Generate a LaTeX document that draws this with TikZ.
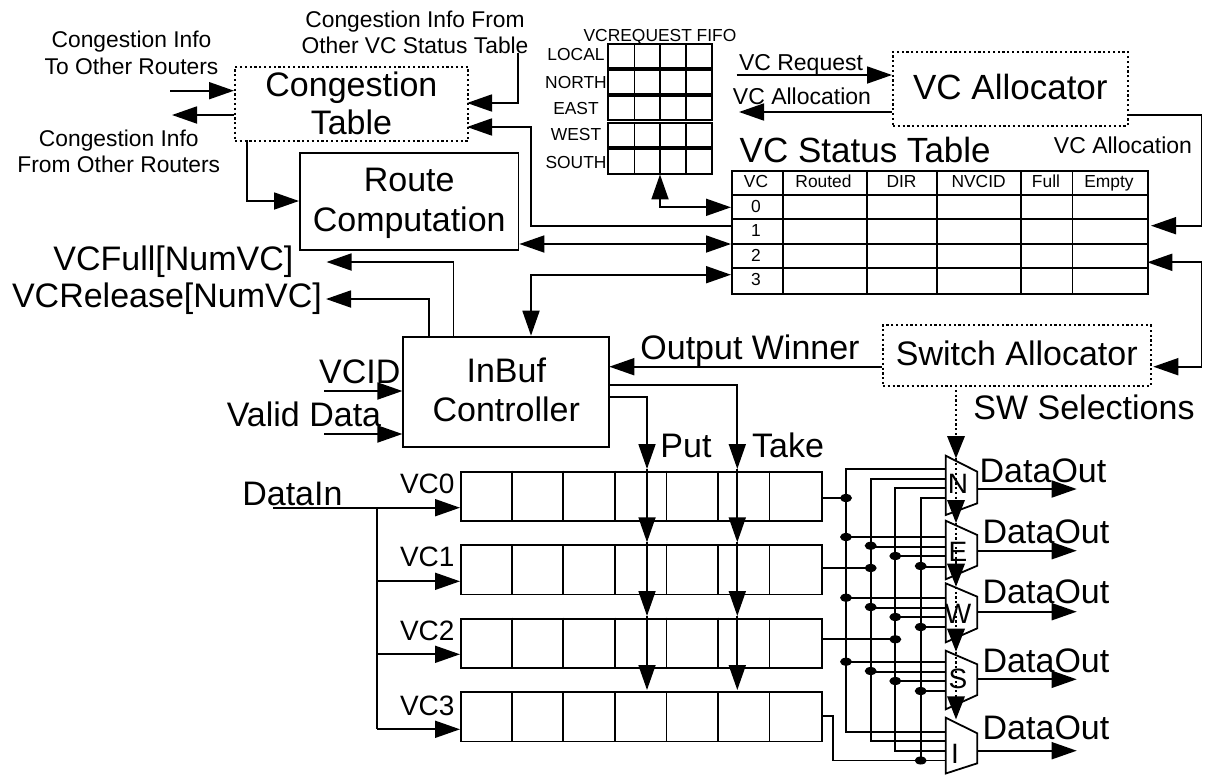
\documentclass[tikz,border=0pt]{standalone}
\usepackage{fontspec}
\setmainfont{Liberation Sans}
\usetikzlibrary{arrows.meta,calc}
\tikzset{
  wire/.style={line width=1.8pt},
  arr/.style={wire,-{Triangle[length=25pt,width=17pt]}},
  biarr/.style={wire,{Triangle[length=25pt,width=17pt]}-{Triangle[length=25pt,width=17pt]}},
  dots/.style={line width=1.8pt,dash pattern=on 2.2pt off 2.6pt},
  box/.style={draw,line width=1.8pt,rectangle,inner sep=0pt,anchor=north west,align=center},
  dotbox/.style={draw,dots,rectangle,inner sep=0pt,anchor=north west,align=center},
  lbl/.style={inner sep=0pt,text depth=0pt},
  f17/.style={lbl,text height=12.5pt,font=\fontsize{17.4}{18}\selectfont},
  f21/.style={lbl,text height=16.3pt,font=\fontsize{22.8}{24}\selectfont},
  f23/.style={lbl,text height=16.5pt,font=\fontsize{23}{24}\selectfont},
  f28/.style={lbl,text height=20pt,font=\fontsize{28}{30}\selectfont},
  f34/.style={lbl,text height=24.3pt,font=\fontsize{34}{36}\selectfont},
  bigtext/.style={font=\fontsize{34}{39}\selectfont},
}
\begin{document}
\begin{tikzpicture}[x=1pt,y=-1pt]
\useasboundingbox (0,0) rectangle (1210,774);
% ---------- boxes
\node[dotbox,minimum width=233pt,minimum height=74pt,font=\fontsize{34}{38}\selectfont] (cong) at (234,66) {Congestion\\Table\rule[-2pt]{0pt}{0pt}};
\node[box,minimum width=218.6pt,minimum height=97pt,font=\fontsize{34}{40}\selectfont] (route) at (299,152) {\rule{0pt}{27pt}Route\\Computation};
\node[box,minimum width=206pt,minimum height=110.6pt,bigtext] (inbuf) at (402.4,335.7) {InBuf\\Controller\rule[-5pt]{0pt}{0pt}};
\node[dotbox,minimum width=235pt,minimum height=73.7pt,font=\fontsize{35}{39}\selectfont] (vcalloc) at (892,51) {VC Allocator\rule[-3pt]{0pt}{0pt}};
\node[dotbox,minimum width=267.7pt,minimum height=60.7pt,bigtext] (swalloc) at (882,324.3) {Switch Allocator\rule[-5pt]{0pt}{0pt}};
% ---------- outside labels
\node[f21] (t1) at (131.5,39.3) {Congestion Info};
\node[f21] (t2) at (131.5,66.7) {To Other Routers};
\node[f21] (t3) at (118.8,138) {Congestion Info};
\node[f21] (t4) at (118.8,164) {From Other Routers};
\node[f21] (t5) at (415,19.3) {Congestion Info From};
\node[f21] (t6) at (415,45.3) {Other VC Status Table};
\node[f34] (t7) at (173.4,258) {VCFull[NumVC]};
\node[f34] (t8) at (167,295) {VCRelease[NumVC]};
\node[f34] (t9) at (359.7,371.7) {VCID};
\node[f34] (t10) at (304,414) {Valid Data};
\node[f34] (t11) at (292.4,493) {DataIn};
\node[f34] (t12) at (750,347) {Output Winner};
\node[f34] (t13) at (686,445) {Put};
\node[f34] (t14) at (788,445) {Take};
\node[f34] (t15) at (1084,407.7) {SW Selections};
\node[f34,text height=25pt,font=\fontsize{35}{36}\selectfont] (t16) at (865.2,150) {VC Status Table};
\node[f23] (t17) at (801,62) {VC Request};
\node[f23] (t18) at (802,96) {VC Allocation};
\node[f23] (t19) at (1123,145) {VC Allocation};
\node[f17] (t20) at (660,35) {VCREQUEST FIFO};
\node[f17] (l1) at (576,54) {LOCAL};
\node[f17] (l2) at (576,82) {NORTH};
\node[f17] (l3) at (576,108) {EAST};
\node[f17] (l4) at (576,134) {WEST};
\node[f17] (l5) at (576,162) {SOUTH};
\node[f28] (v0) at (427.3,483.3) {VC0};
\node[f28] (v1) at (427.3,556) {VC1};
\node[f28] (v2) at (427.3,630) {VC2};
\node[f28] (v3) at (427.3,705) {VC3};
% ---------- request FIFO
\foreach \n/\t/\b in {a/43.7/67.7,b/70/94,c/96.3/120.3,d/122.7/146.7,e/149.3/173.7}{
  \draw[wire] (608,\t) rectangle (712,\b);
  \foreach \x in {634.5,660,686}{\draw[wire] (\x,\t) -- (\x,\b);}
}
\coordinate (fifoB) at (660,174.4);
% ---------- VC status table
\node[box,minimum width=416pt,minimum height=122.4pt] (status) at (731,170.3) {};
\foreach \y in {194.7,219.3,244,268.3}{\draw[wire] (731,\y) -- (1147,\y);}
\foreach \x in {782.6,866.7,936.7,1020.9,1072.4}{\draw[wire] (\x,170.3) -- (\x,292.7);}
\foreach \x/\s/\i in {756/VC/a,823.5/Routed/b,901.5/DIR/c,978.6/NVCID/d,1046/Full/e,1109/Empty/f}{
  \node[f17] (h\i) at (\x,181.7) {\s};}
\foreach \y/\s in {206.7/0,230.7/1,255.3/2,279.3/3}{\node[f17] (r\s) at (756,\y) {\s};}
% ---------- data buffers
\foreach \n/\t in {0/470.7,1/544.3,2/617.7,3/691.3}{
  \node[box,minimum width=361.3pt,minimum height=49.2pt] (buf\n) at (460,\t) {};
  \foreach \x in {512,563.3,614.8,666.5,718,769.4}{\draw[wire] (\x,\t) -- (\x,\t+49.2);}
}
% ---------- congestion connectors
\coordinate (extIn) at (170,90.7);
\coordinate (extOut) at (172,115);
\coordinate (otherVC) at (518,53);
\coordinate (congA) at (467,103);
\coordinate (congB) at (467,127);
\coordinate (routeIn) at (299,201);
\coordinate (congS) at (247,140);
\coordinate (stat1) at (731,226);
\draw[arr] (extIn) -- (extIn -| cong.west);
\draw[arr] (extOut -| cong.west) -- (extOut);
\draw[arr] (otherVC) |- (congA);
\draw[arr] (stat1) -| (531,127) -- (congB);
\draw[arr] (congS) |- (routeIn);
% ---------- VC request/allocation
\coordinate (reqA) at (736.7,75);
\coordinate (allB) at (739,112);
\draw[arr] (reqA) -- (reqA -| vcalloc.west);
\draw[arr] (allB -| vcalloc.west) -- (allB);
\coordinate (vaOut) at (1127,115);
\coordinate (stR1) at (1151,225.7);
\draw[arr] (vaOut) -- (1201.5,115) |- (stR1);
\coordinate (swR) at (1153.3,366.7);
\coordinate (stR2) at (1147.3,262.3);
\draw[biarr] (swR) -- (1201.5,366.7) |- (stR2);
\coordinate (stL0) at (731,207.3);
\draw[biarr] (fifoB) |- (stL0);
\coordinate (stL2) at (731,244);
\draw[biarr] (stL2 -| route.east) -- (stL2);
\coordinate (stL3) at (731,274.7);
\coordinate (ibTop) at (531,335.7);
\draw[biarr] (stL3) -| (ibTop);
% ---------- InBuf connectors
\coordinate (vcf) at (326.5,262);
\coordinate (vcr) at (326,299);
\draw[arr] (453.5,335.7) |- (vcf);
\draw[arr] (428.7,335.7) |- (vcr);
\coordinate (vcidE) at (324.3,391);
\coordinate (validE) at (324.3,434);
\draw[arr] (vcidE) -- (vcidE -| inbuf.west);
\draw[arr] (validE) -- (validE -| inbuf.west);
\coordinate (ow) at (609.3,366.7);
\draw[arr] (ow -| swalloc.west) -- (ow);
\coordinate (putT) at (647,469);
\coordinate (takeT) at (737.3,469);
\draw[arr] (608.4,397.3) -| (putT);
\draw[arr] (608.4,385.3) -| (takeT);
\foreach \x in {647,737.3}{
  \draw[arr] (\x,469) -- (\x,542.3);
  \draw[arr] (\x,542.3) -- (\x,616);
  \draw[arr] (\x,616) -- (\x,690);
}
% ---------- DataIn
\coordinate (din) at (273.3,507.7);
\coordinate (dbr) at (376.9,507.7);
\draw[arr] (din) -- (din -| buf0.west);
\draw[wire] (dbr) -- (376.9,729.3);
\foreach \n/\y in {1/581.3,2/654.3,3/729.3}{\draw[arr] (376.9,\y) -- (460,\y);}
% ---------- crossbar busses
\foreach \x/\a/\b/\c/\d/\e in {
  846/468.7/537/597.7/661.7/731.7,
  870.7/478.7/547/607.7/671.7/741.3,
  895.3/488/556.3/617.3/681.3/751,
  920.7/498/566.7/627/691.3/760.5}{
  \draw[wire] (945.7,\a) -- (\x,\a) -- (\x,\e) -- (945.7,\e);
  \foreach \y in {\b,\c,\d}{\draw[wire] (\x,\y) -- (945.7,\y);}
}
\draw[wire] (821.3,498) -- (846,498);
\draw[wire] (821.3,568) -- (870.7,568);
\draw[wire] (821.3,639.3) -- (895.3,639.3);
\draw[wire] (821.3,715.7) -- (833.3,715.7) -- (833.3,760.5) -- (920.7,760.5);
\foreach \x/\y in {846/498,846/537,846/597.7,846/661.7,
  870.7/545.7,870.7/568,870.7/607,870.7/671,
  895.3/556,895.3/617,895.3/639.3,895.3/681,
  920.7/566,920.7/627,920.7/691,920.7/760.5}{
  \fill (\x,\y) ellipse (6pt and 4pt);}
% ---------- selection line
\coordinate (swS) at (956,385);
\coordinate (muxT) at (956,458.3);
\draw[dots] (swS) -- (956,436);
\fill (947,436) -- (965,436) -- (muxT) -- cycle;
\foreach \a/\b in {458.3/523,523/586.7,586.7/651.7,651.7/719.3}{
  \draw[dots] (956,\a) -- (956,\b-22);
  \fill (947,\b-23) -- (965,\b-23) -- (956,\b) -- cycle;
}
% ---------- muxes
\foreach \a/\b/\c/\d in {455.7/471.7/503.3/515,520.7/535/565.7/579.3,583.3/596.7/628.3/642.3,650.7/664.3/695/709.3,717.7/733.3/763.3/773.5}{
  \draw[wire,line join=miter] (945.7,\a) -- (977.3,\b) -- (977.3,\c) -- (945.7,\d) -- cycle;
}
\foreach \n/\x/\y/\s in {mN/958/483/N,mE/958/551.7/E,mW/958/613/W,mS/958/678/S,mI/955/753/I}{
  \node[f28] (\n) at (\x,\y) {\s};
}
% ---------- outputs
\foreach \n/\oy/\tx/\ty in {a/489/1043/470,b/550.7/1046/531.7,c/611.7/1046/591.7,d/679.3/1046/660,e/750.7/1046/727.3}{
  \coordinate (o\n) at (1076.7,\oy);
  \draw[arr] (977.3,\oy) -- (o\n);
  \node[f34] (d\n) at (\tx,\ty) {DataOut};
}
\end{tikzpicture}
\end{document}
